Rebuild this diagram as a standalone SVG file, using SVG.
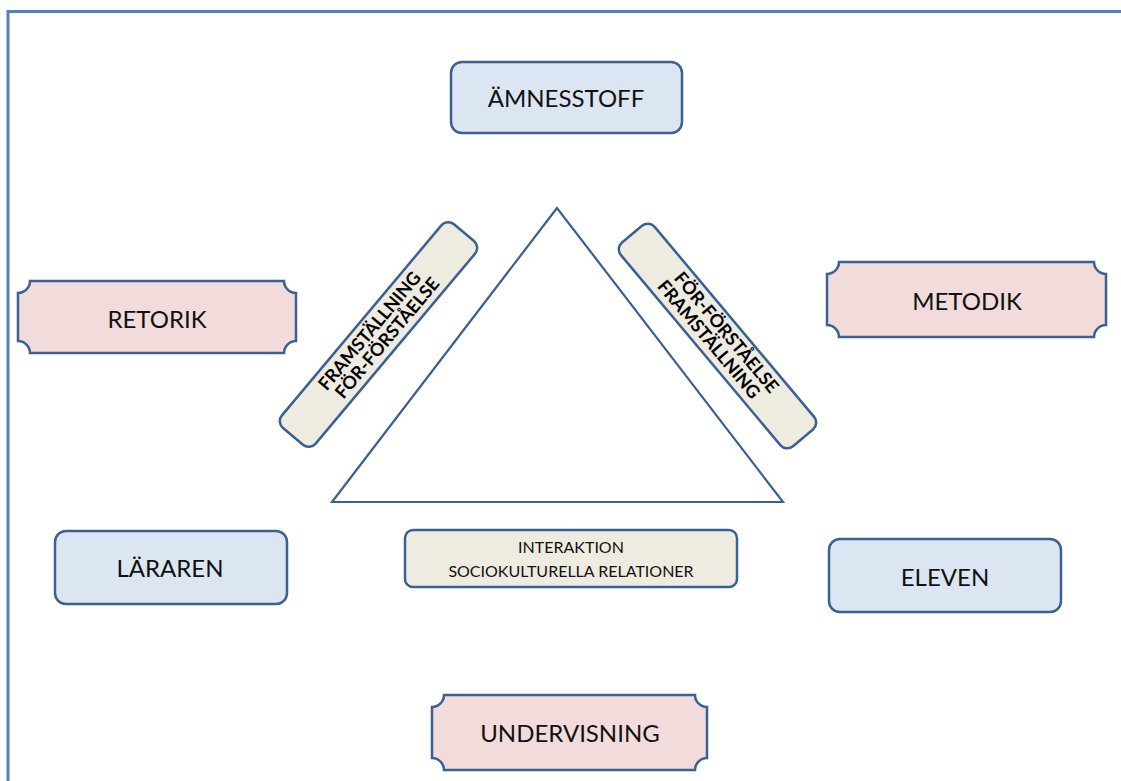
<svg xmlns="http://www.w3.org/2000/svg" width="1121" height="781" viewBox="0 0 1121 781">
<style>
.frame{stroke:#4f81bd;stroke-width:3;fill:none}
.blue{fill:#dce6f2;stroke:#3b6092;stroke-width:2.5}
.pink{fill:#f2dcdb;stroke:#3b6092;stroke-width:2.5}
.beige{fill:#eeece1;stroke:#3b6092;stroke-width:2.5}
.tri{fill:#ffffff;stroke:#3b6092;stroke-width:2.2}
.lbl{font-family:Lato,"Liberation Sans",sans-serif;font-size:24px;fill:#111;text-anchor:middle}
.sm{font-family:Lato,"Liberation Sans",sans-serif;font-size:16px;fill:#111;text-anchor:middle}
.slant{font-family:Lato,"Liberation Sans",sans-serif;font-size:18px;font-weight:bold;fill:#000;text-anchor:middle}
</style>
<rect width="1121" height="781" fill="#ffffff"/>
<g id="frame">
<line class="frame" x1="7" y1="11.5" x2="1121" y2="11.5"/>
<line class="frame" x1="8" y1="10" x2="8" y2="781"/>
</g>
<g id="connectors">
<polygon id="triangle" class="tri" points="557,208 332,502 783,502"/>
</g>
<g id="amnesstoff">
<rect class="blue" x="451" y="62" width="231" height="71" rx="11"/>
<text class="lbl" x="566" y="107">ÄMNESSTOFF</text>
</g>
<g id="retorik">
<path class="pink" d="M30,281 H284 A12,12 0 0 0 296,293 V341 A12,12 0 0 0 284,353 H30 A12,12 0 0 0 18,341 V293 A12,12 0 0 0 30,281 Z"/>
<text class="lbl" x="157" y="328">RETORIK</text>
</g>
<g id="metodik">
<path class="pink" d="M839,262 H1094 A12,12 0 0 0 1106,274 V325 A12,12 0 0 0 1094,337 H839 A12,12 0 0 0 827,325 V274 A12,12 0 0 0 839,262 Z"/>
<text class="lbl" x="967" y="310">METODIK</text>
</g>
<g id="lararen">
<rect class="blue" x="55" y="531" width="232" height="73" rx="11"/>
<text class="lbl" x="170" y="577">LÄRAREN</text>
</g>
<g id="eleven">
<rect class="blue" x="829" y="539" width="232" height="73" rx="11"/>
<text class="lbl" x="945" y="586">ELEVEN</text>
</g>
<g id="interaktion">
<rect class="beige" x="405" y="530" width="332" height="57" rx="8"/>
<text class="sm" x="571" y="553">INTERAKTION</text>
<text class="sm" x="571" y="577">SOCIOKULTURELLA RELATIONER</text>
</g>
<g id="undervisning">
<path class="pink" d="M444,695 H695 A12,12 0 0 0 707,707 V758 A12,12 0 0 0 695,770 H444 A12,12 0 0 0 432,758 V707 A12,12 0 0 0 444,695 Z"/>
<text class="lbl" x="570" y="742">UNDERVISNING</text>
</g>
<g id="framstallning-left" transform="translate(378.5,334.5) rotate(-50)">
<rect class="beige" x="-133" y="-22" width="266" height="44" rx="9"/>
<text class="slant" x="-3" y="-3">FRAMSTÄLLNING</text>
<text class="slant" x="3" y="15">FÖR-FÖRSTÅELSE</text>
</g>
<g id="forforstaelse-right" transform="translate(717.5,336) rotate(50)">
<rect class="beige" x="-133" y="-22" width="266" height="44" rx="9"/>
<text class="slant" x="3" y="-3">FÖR-FÖRSTÅELSE</text>
<text class="slant" x="-3" y="15">FRAMSTÄLLNING</text>
</g>
</svg>
